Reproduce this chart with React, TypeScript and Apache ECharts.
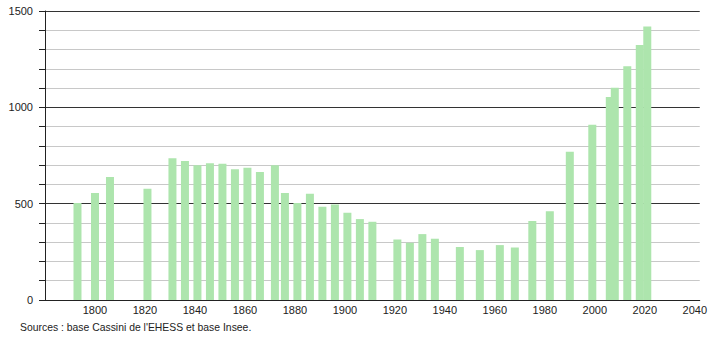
import React, { useEffect, useRef } from "react";
import * as echarts from "echarts";

const years = [1793, 1800, 1806, 1821, 1831, 1836, 1841, 1846, 1851, 1856, 1861, 1866, 1872, 1876, 1881, 1886, 1891, 1896, 1901, 1906, 1911, 1921, 1926, 1931, 1936, 1946, 1954, 1962, 1968, 1975, 1982, 1990, 1999, 2006, 2008, 2013, 2018, 2021];
const population = [504, 556, 639, 577, 736, 722, 700, 710, 707, 679, 686, 665, 700, 556, 504, 551, 484, 496, 453, 420, 406, 314, 297, 342, 318, 275, 259, 285, 273, 410, 460, 769, 909, 1054, 1101, 1213, 1324, 1420];
const yLabelValues = [0, 500, 1000, 1500];
const xLabelValues = [1800, 1820, 1840, 1860, 1880, 1900, 1920, 1940, 1960, 1980, 2000, 2020, 2040];
const sourceText = "Sources : base Cassini de l'EHESS et base Insee.";

const FONT = "'Liberation Sans', Arial, sans-serif";

export default function App() {
  const ref = useRef<HTMLDivElement>(null);
  useEffect(() => {
    if (!ref.current) return;
    const chart = echarts.init(ref.current, null, { renderer: "svg" });
    chart.setOption({
      animation: false,
      backgroundColor: "#ffffff",
      grid: { left: 45, top: 11, width: 655, height: 289, containLabel: false },
      xAxis: {
        type: "value",
        min: 1780,
        max: 2042,
        interval: 20,
        axisLine: { show: true, lineStyle: { color: "#222", width: 1 } },
        axisTick: { show: false },
        splitLine: { show: false },
        axisLabel: {
          color: "#222",
          fontFamily: FONT,
          fontSize: 11,
          margin: 4,
          formatter: (v: number) => (xLabelValues.includes(v) ? String(v) : ""),
        },
      },
      yAxis: {
        type: "value",
        min: 0,
        max: 1500,
        interval: 100,
        axisLine: { show: true, lineStyle: { color: "#222", width: 1 } },
        axisTick: { show: true, length: 6, lineStyle: { color: "#222" } },
        axisLabel: {
          color: "#222",
          fontFamily: FONT,
          fontSize: 11,
          margin: 12,
          formatter: (v: number) => (yLabelValues.includes(v) ? String(v) : ""),
        },
        splitLine: {
          show: true,
          lineStyle: { color: ["#333", "#c8c8c8", "#c8c8c8", "#c8c8c8", "#c8c8c8"], width: 1 },
        },
      },
      series: [
        {
          type: "bar",
          data: years.map((y, i) => [y, population[i]]),
          barWidth: 8,
          itemStyle: { color: "#ade5ad" },
        },
      ],
      graphic: [
        {
          type: "text",
          left: 20,
          top: 322,
          style: { text: sourceText, fill: "#222", font: `10.4px ${FONT}` },
        },
      ],
    });
    return () => chart.dispose();
  }, []);
  return <div ref={ref} style={{ position: "fixed", left: 0, top: 0, width: 710, height: 340 }} />;
}
